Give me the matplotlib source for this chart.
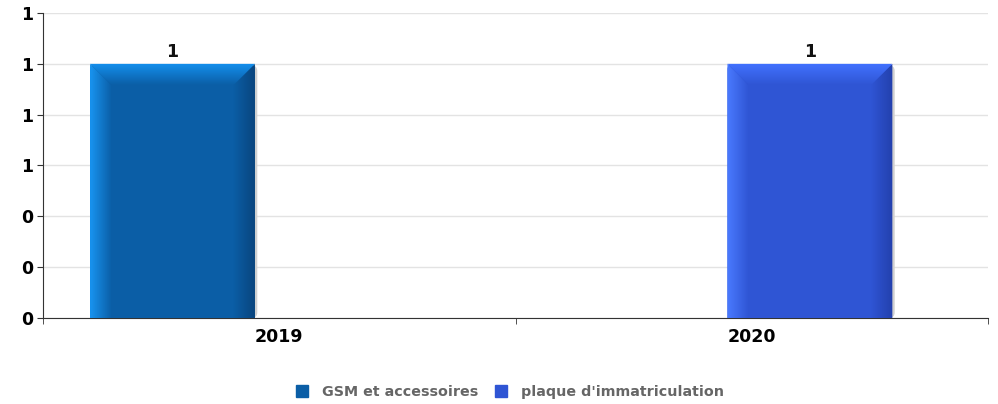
import numpy as np
import matplotlib
matplotlib.use("Agg")
import matplotlib.pyplot as plt
from matplotlib.patches import Polygon, FancyBboxPatch
from matplotlib.lines import Line2D
from matplotlib.colors import LinearSegmentedColormap

categories = ["2019", "2020"]
series_names = ["GSM et accessoires", "plaque d'immatriculation"]
series_values = [[1, 0], [0, 1]]
yticks = [0, 0.2, 0.4, 0.6, 0.8, 1.0, 1.2]
ytick_labels = ["0", "0", "0", "1", "1", "1", "1"]

face_colors = ["#0b5ea6", "#2f55d4"]
light_colors = ["#1894f0", "#4a7aff"]
top_colors = ["#1490ee", "#4272ff"]
dark_colors = ["#09457e", "#2340ad"]

fig = plt.figure(figsize=(9.98, 4.04), dpi=100)
ax = fig.add_axes([0.0431, 0.2129, 0.9469, 0.7549])
ax.set_xlim(-0.5, 1.5)
ax.set_ylim(0, 1.2)

width = 0.349
first_offset = -0.226
bev_x = 0.046
bev_y = 0.085
aspect = (1.2 / 305) / (2 / 945)


def grad_fill(poly, clip, c1, c2, horizontal, extent):
    cmap = LinearSegmentedColormap.from_list("g", [c1, c2])
    g = np.linspace(0, 1, 64)
    arr = g[None, :] if horizontal else g[:, None]
    im = ax.imshow(arr, cmap=cmap, extent=extent, aspect="auto",
                   origin="lower", zorder=3, interpolation="bicubic")
    im.set_clip_path(poly)


for si, vals in enumerate(series_values):
    for ci, v in enumerate(vals):
        if v <= 0:
            continue
        xc = ci + first_offset + si * width
        xl, xr = xc - width / 2, xc + width / 2
        yt = v
        # shadow
        ax.add_patch(FancyBboxPatch((xl + 0.005, 0), width, yt - 0.006,
                                    boxstyle="round,pad=0,rounding_size=0.012",
                                    fc="#d0d0d0", ec="none", zorder=2,
                                    mutation_aspect=aspect))
        clip = FancyBboxPatch((xl, -0.05), width, yt + 0.05,
                              boxstyle="round,pad=0,rounding_size=0.012",
                              fc="none", ec="none", mutation_aspect=aspect,
                              transform=ax.transData)
        ax.add_patch(clip)
        bars = ax.bar(xc, v, width=width, color=face_colors[si], zorder=3,
                      linewidth=0)
        for b in bars:
            b.set_clip_path(clip)
        # left bevel
        left = Polygon([(xl, 0), (xl, yt), (xl + bev_x, yt - bev_y),
                        (xl + bev_x, 0)], closed=True, fc="none", ec="none",
                       transform=ax.transData)
        ax.add_patch(left)
        grad_fill(left, clip, light_colors[si], face_colors[si], True,
                  [xl, xl + bev_x, 0, yt])
        # right bevel
        right = Polygon([(xr, 0), (xr, yt), (xr - bev_x, yt - bev_y),
                         (xr - bev_x, 0)], closed=True, fc="none", ec="none",
                        transform=ax.transData)
        ax.add_patch(right)
        grad_fill(right, clip, face_colors[si], dark_colors[si], True,
                  [xr - bev_x, xr, 0, yt])
        # top bevel
        top = Polygon([(xl, yt), (xr, yt), (xr - bev_x, yt - bev_y),
                       (xl + bev_x, yt - bev_y)], closed=True, fc="none",
                      ec="none", transform=ax.transData)
        ax.add_patch(top)
        grad_fill(top, clip, face_colors[si], top_colors[si], False,
                  [xl, xr, yt - bev_y, yt])
        # white cut at rounded corners
        ax.add_patch(FancyBboxPatch((xl, -0.05), width, yt + 0.05,
                                    boxstyle="round,pad=0,rounding_size=0.012",
                                    fc="none", ec="none",
                                    mutation_aspect=aspect, zorder=4))
        ax.text(xc, yt + 0.012, str(v), ha="center", va="bottom",
                fontsize=12.5, fontweight="bold", color="#111111")

ax.set_yticks(yticks)
ax.set_yticklabels(ytick_labels, fontsize=12.5, fontweight="bold")
ax.set_xticks(range(len(categories)))
ax.set_xticklabels(categories, fontsize=12.5, fontweight="bold")
ax.set_xticks([-0.5, 0.5, 1.5], minor=True)
ax.tick_params(axis="x", which="major", length=0, pad=7)
ax.tick_params(axis="x", which="minor", length=4, color="#333333")
ax.tick_params(axis="y", length=4, pad=3, color="#333333")
ax.grid(axis="y", color="#e3e3e3", linewidth=1, zorder=0)
ax.set_axisbelow(True)
for s in ["top", "right"]:
    ax.spines[s].set_visible(False)
ax.spines["left"].set_color("#333333")
ax.spines["bottom"].set_color("#333333")

handles = [Line2D([], [], marker="s", linestyle="none", markersize=9,
                  color=face_colors[i], label=series_names[i])
           for i in range(len(series_names))]
leg = fig.legend(handles=handles, loc="center", bbox_to_anchor=(0.507, 0.03),
                 ncol=2, frameon=False, handletextpad=0.4, columnspacing=0.6,
                 prop={"weight": "bold", "size": 10.3})
for t in leg.get_texts():
    t.set_color("#666666")

fig.savefig("out.png", dpi=100)
